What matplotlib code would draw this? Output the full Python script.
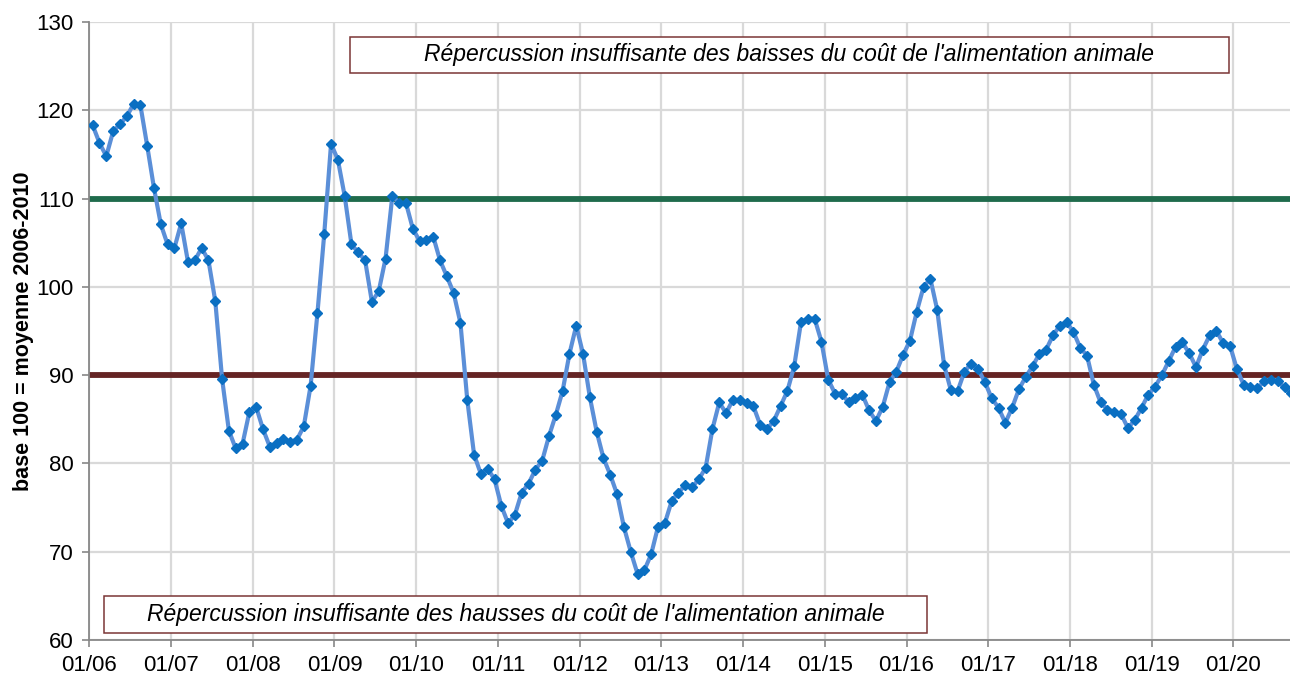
import matplotlib
matplotlib.use("Agg")
import matplotlib.pyplot as plt
from matplotlib.patches import Rectangle
import numpy as np

# ---- data (monthly index, base 100 = average 2006-2010), Jan 2006 .. Sep 2020
v2006 = [118.3, 116.3, 114.8, 117.6, 118.4, 119.3, 120.7, 120.6, 116.0, 111.2, 107.1, 104.8]
v2007 = [104.4, 107.2, 102.8, 103.0, 104.4, 103.0, 98.4, 89.6, 83.7, 81.7, 82.2, 85.8]
v2008 = [86.4, 83.9, 81.9, 82.3, 82.8, 82.4, 82.7, 84.2, 88.8, 97.0, 106.0, 116.2]
v2009 = [114.4, 110.3, 104.8, 103.9, 103.0, 98.3, 99.5, 103.2, 110.3, 109.5, 109.5, 106.6]
v2010 = [105.2, 105.3, 105.7, 103.0, 101.2, 99.3, 95.9, 87.2, 81.0, 78.8, 79.4, 78.2]
v2011 = [75.2, 73.2, 74.2, 76.7, 77.7, 79.3, 80.3, 83.1, 85.5, 88.2, 92.4, 95.6]
v2012 = [92.4, 87.5, 83.6, 80.6, 78.7, 76.5, 72.8, 70.0, 67.5, 67.9, 69.7, 72.8]
v2013 = [73.2, 75.7, 76.7, 77.5, 77.3, 78.2, 79.5, 83.9, 86.9, 85.7, 87.2, 87.2]
v2014 = [86.8, 86.5, 84.4, 83.9, 84.8, 86.5, 88.2, 91.0, 96.0, 96.4, 96.4, 93.8]
v2015 = [89.5, 87.9, 87.9, 86.9, 87.4, 87.8, 86.0, 84.8, 86.4, 89.2, 90.4, 92.3]
v2016 = [93.9, 97.2, 100.0, 100.9, 97.4, 91.2, 88.3, 88.2, 90.4, 91.3, 90.7, 89.2]
v2017 = [87.4, 86.3, 84.6, 86.3, 88.4, 89.8, 91.0, 92.4, 92.9, 94.5, 95.6, 96.0]
v2018 = [94.9, 93.1, 92.2, 88.9, 86.9, 86.1, 85.8, 85.6, 84.0, 84.9, 86.3, 87.8]
v2019 = [88.7, 90.0, 91.6, 93.2, 93.7, 92.5, 90.9, 92.9, 94.5, 95.0, 93.6, 93.3]
v2020 = [90.7, 88.9, 88.6, 88.5, 89.3, 89.5, 89.3, 88.6, 88.0]

values = (v2006 + v2007 + v2008 + v2009 + v2010 + v2011 + v2012 + v2013 +
          v2014 + v2015 + v2016 + v2017 + v2018 + v2019 + v2020)

tick_labels = ["01/06", "01/07", "01/08", "01/09", "01/10", "01/11", "01/12",
               "01/13", "01/14", "01/15", "01/16", "01/17", "01/18", "01/19", "01/20"]

upper_level = 110
lower_level = 90
upper_text = "Répercussion insuffisante des baisses du coût de l'alimentation animale"
lower_text = "Répercussion insuffisante des hausses du coût de l'alimentation animale"
ylabel = "base 100 = moyenne 2006-2010"

# ---- figure
plt.rcParams['font.family'] = ['Liberation Sans', 'DejaVu Sans']
fig = plt.figure(figsize=(12.9, 6.83), dpi=100)
ax = fig.add_axes([0.0692, 0.063, 1.0 - 0.0692, 0.9678 - 0.063])

months = np.arange(len(values)) + 0.5
x_end = 176.3

ax.set_xlim(0, x_end)
ax.set_ylim(60, 130)

ax.set_xticks(np.arange(len(tick_labels)) * 12)
ax.set_xticklabels(tick_labels)
ax.set_yticks(np.arange(60, 131, 10))

ax.grid(True, color='#d9d9d9', linewidth=1.6, zorder=0)
ax.set_axisbelow(True)

for s in ['top', 'right']:
    ax.spines[s].set_visible(False)
for s in ['left', 'bottom']:
    ax.spines[s].set_color('#888888')
    ax.spines[s].set_linewidth(1.3)

ax.tick_params(axis='both', length=5, width=1.2, color='#888888',
               labelsize=16, labelcolor='black', direction='out')
ax.tick_params(axis='x', pad=6)
ax.tick_params(axis='y', pad=6)

ax.plot([0, x_end], [upper_level, upper_level], color='#1f6b4c', linewidth=4.2,
        solid_capstyle='butt', zorder=2)
ax.plot([0, x_end], [lower_level, lower_level], color='#652424', linewidth=4.2,
        solid_capstyle='butt', zorder=2)

ax.plot(months, values, color='#5b8fd8', linewidth=3.0, marker='D',
        markersize=5.5, markerfacecolor='#0a6fc2', markeredgecolor='#0a6fc2',
        zorder=3, clip_on=True)

ax.set_ylabel(ylabel, fontsize=15.5, fontweight='bold',
              family=['Liberation Sans Narrow', 'Liberation Sans', 'DejaVu Sans'],
              labelpad=2)

def box(x0, x1, y0, y1, text):
    r = Rectangle((x0, y0), x1 - x0, y1 - y0, transform=ax.transAxes,
                  facecolor='white', edgecolor='#7a3535', linewidth=1.1, zorder=4)
    ax.add_patch(r)
    ax.text((x0 + x1) / 2, (y0 + y1) / 2, text, transform=ax.transAxes,
            ha='center', va='center', style='italic', fontsize=16.5,
            family=['Liberation Sans Narrow', 'Liberation Sans', 'DejaVu Sans'],
            zorder=5)

box(0.2171, 0.9492, 0.9175, 0.9757, upper_text)
box(0.0122, 0.6977, 0.0113, 0.0712, lower_text)

fig.savefig("out.png", dpi=100)
